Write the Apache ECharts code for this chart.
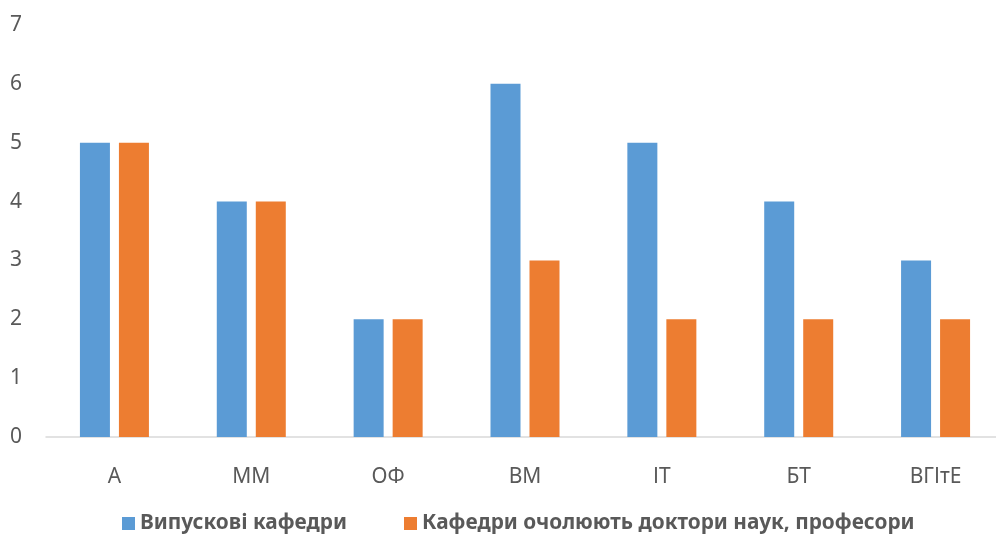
<!DOCTYPE html>
<html>
<head>
<meta charset="utf-8">
<script src="https://cdn.jsdelivr.net/npm/echarts@6/dist/echarts.min.js"></script>
<style>
html,body{margin:0;padding:0;background:#fff;overflow:hidden;width:996px;height:538px;}
#chart{width:1004px;height:538px;}
</style>
</head>
<body>
<div id="chart"></div>
<script>
const categories = ['А', 'ММ', 'ОФ', 'ВМ', 'ІТ', 'БТ', 'ВГІтЕ'];
const seriesNames = ['Випускові кафедри', 'Кафедри очолюють доктори наук, професори'];
const graduating = [5, 4, 2, 6, 5, 4, 3];
const ledByDoctors = [5, 4, 2, 3, 2, 2, 2];
const yTicks = { min: 0, max: 7, interval: 1 };

const chart = echarts.init(document.getElementById('chart'));
chart.setOption({
  backgroundColor: '#ffffff',
  animation: false,
  grid: { left: 46, right: 0, top: 25, bottom: 101, containLabel: false },
  legend: {
    left: 117,
    top: 508,
    itemWidth: 13,
    itemHeight: 13,
    itemGap: 57,
    icon: 'rect',
    textStyle: { fontFamily: 'Noto Sans', fontWeight: 'bold', fontSize: 20.8, color: '#595959' },
    data: seriesNames
  },
  xAxis: {
    type: 'category',
    data: categories,
    axisLine: { lineStyle: { color: '#D9D9D9', width: 1.5 } },
    axisTick: { show: false },
    axisLabel: { margin: 30, fontFamily: 'Noto Sans', fontSize: 21, color: '#595959' }
  },
  yAxis: {
    type: 'value',
    min: yTicks.min,
    max: yTicks.max,
    interval: yTicks.interval,
    splitLine: { show: false },
    axisLine: { show: false },
    axisTick: { show: false },
    axisLabel: { margin: 24, fontFamily: 'Noto Sans', fontSize: 21, color: '#595959' }
  },
  series: [
    {
      name: seriesNames[0],
      type: 'bar',
      data: graduating,
      barWidth: 30,
      barGap: '30%',
      itemStyle: { color: '#5B9BD5' }
    },
    {
      name: seriesNames[1],
      type: 'bar',
      data: ledByDoctors,
      barWidth: 30,
      barGap: '30%',
      itemStyle: { color: '#ED7D31' }
    }
  ]
});
</script>
</body>
</html>
